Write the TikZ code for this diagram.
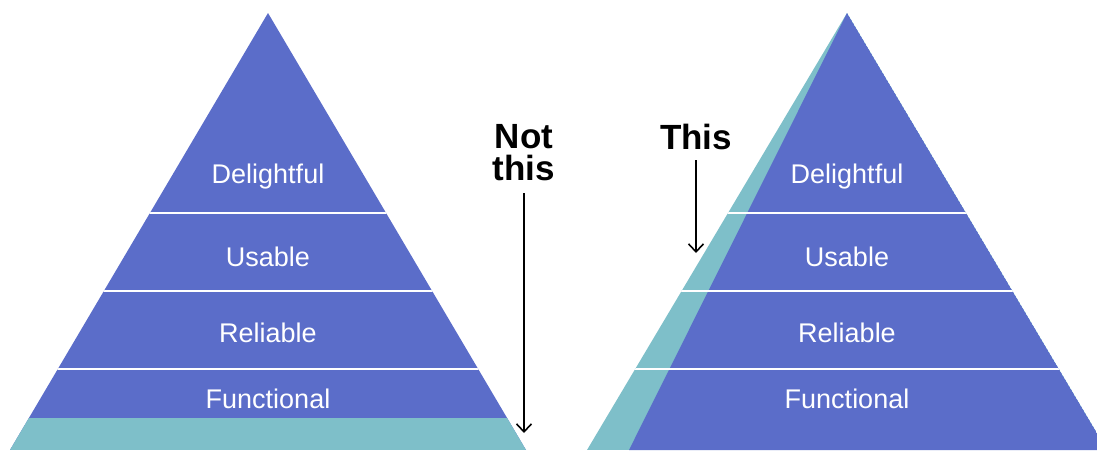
\documentclass[tikz,border=0pt]{standalone}
\usepackage{fontspec}
\setmainfont{Liberation Sans}
\usetikzlibrary{arrows.meta}
\definecolor{pyrblue}{HTML}{5B6DC9}
\definecolor{pyrteal}{HTML}{7EBFC9}
\tikzset{px/.style={x=1pt,y=-1pt},
  tier/.style={white,font=\fontsize{27}{27}\selectfont,anchor=base},
  callout/.style={font=\bfseries\fontsize{35}{32}\selectfont,align=center,anchor=south,inner sep=0pt},
  sep/.style={white,line width=2pt},
  pointer/.style={line width=1.6pt,-{Straight Barb[length=8pt,width=15pt]}}}

\begin{document}
\begin{tikzpicture}[px]
  \useasboundingbox (0,0) rectangle (1097,450);
  \clip (0,0) rectangle (1097,450);
  \coordinate (lTop) at (268,13); \coordinate (lBL) at (10,450); \coordinate (lBR) at (526,450);
  \coordinate (rTop) at (847,13); \coordinate (rBL) at (587,450); \coordinate (rBI) at (629,450); \coordinate (rBR) at (1107,450);
  % left pyramid: flat base band
  \begin{scope}
    \clip (lTop) -- (lBL) -- (lBR) -- cycle;
    \fill[pyrblue] (0,0) rectangle (560,450);
    \fill[pyrteal] (0,418) rectangle (560,450);
    \foreach \yy in {213,291,369} \draw[sep] (0,\yy) -- (560,\yy);
  \end{scope}
  % right pyramid: slanted wedge on the side
  \begin{scope}
    \clip (rTop) -- (rBL) -- (rBR) -- cycle;
    \fill[pyrteal] (560,0) rectangle (1110,450);
    \fill[pyrblue] (rTop) -- (rBI) -- (rBR) -- cycle;
    \foreach \yy in {213,291,369} \draw[sep] (560,\yy) -- (1110,\yy);
  \end{scope}
  \foreach \nm/\txt/\yy in {del/Delightful/183,usa/Usable/266,rel/Reliable/342,fun/Functional/408}{
    \node[tier] (l\nm) at (268,\yy) {\txt};
    \node[tier] (r\nm) at (847,\yy) {\txt};}
  % callouts
  \node[callout] (notthis) at (524,181) {Not\\this};
  \coordinate (notTip) at (524,433);
  \draw[pointer,shorten <=12pt] (notthis.south) -- (notTip);
  \node[callout] (this) at (696,150) {This};
  \coordinate (thisTip) at (696,253);
  \draw[pointer,shorten <=10pt] (this.south) -- (thisTip);
\end{tikzpicture}
\end{document}
